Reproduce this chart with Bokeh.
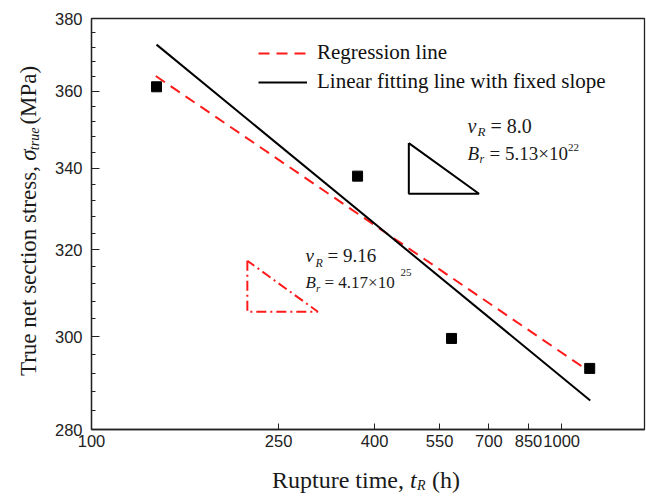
import math
from bokeh.plotting import figure
from bokeh.layouts import row, column
from bokeh.models import FixedTicker, Label, Legend, LegendItem, NumeralTickFormatter
from bokeh.core.properties import value
from bokeh.embed import file_html
from bokeh.resources import INLINE

# ---- data ----
rupture_time_h = [137.5, 368.0, 583.0, 1147.0]
stress_mpa = [361.2, 338.0, 299.6, 293.0]

regression_t = [137.0, 1150.0]
regression_sigma = [364.1, 292.2]
fixed_slope_t = [137.5, 1150.0]
fixed_slope_sigma = [372.7, 286.1]

x_tick_values = [100, 250, 400, 550, 700, 850, 1000]
y_tick_values = [280, 300, 320, 340, 360, 380]
y_minor_values = list(range(280, 381, 4))

tri_fixed_t = [473, 473, 667, 473]
tri_fixed_s = [346.4, 333.6, 333.6, 346.4]
tri_reg_t = [214.5, 214.5, 303.0, 214.5]
tri_reg_s = [317.4, 305.6, 305.6, 317.4]

X_LO, X_HI = 100, 1500
Y_LO, Y_HI = 280, 380

# ---- page geometry (px) ----
PAGE_W, PAGE_H = 646, 495
LEFT_W = 48           # strip holding the y-axis title
MAIN_H = 465          # main figure height
FL, FR, FT, FB = 91, 644, 18, 429  # frame edges on the page


def tx(px):
    f = (px - FL) / (FR - FL)
    return 10 ** (math.log10(X_LO) + f * (math.log10(X_HI) - math.log10(X_LO)))


def sy(py):
    f = (py - FT) / (FB - FT)
    return 10 ** (math.log10(Y_HI) - f * (math.log10(Y_HI) - math.log10(Y_LO)))


p = figure(width=PAGE_W - LEFT_W, height=MAIN_H, x_axis_type="log", y_axis_type="log",
           x_range=(X_LO, X_HI), y_range=(Y_LO, Y_HI),
           output_backend="svg", toolbar_location=None,
           min_border_left=FL - LEFT_W, min_border_right=PAGE_W - FR,
           min_border_top=FT, min_border_bottom=MAIN_H - FB)
p.background_fill_color = "white"
p.border_fill_color = "white"
p.xgrid.visible = False
p.ygrid.visible = False
p.outline_line_color = "#222222"
p.outline_line_width = 1.3

for ax in (p.xaxis, p.yaxis):
    ax.axis_line_color = "#222222"
    ax.axis_line_width = 1.3
    ax.major_tick_line_color = "#222222"
    ax.minor_tick_line_color = "#222222"
    ax.major_tick_out = 0
    ax.minor_tick_out = 0
    ax.major_label_text_font = "Liberation Sans"
    ax.major_label_text_font_size = "16.5px"
    ax.major_label_text_color = "#222222"
    ax.formatter = NumeralTickFormatter(format="0")

p.xaxis.ticker = FixedTicker(ticks=x_tick_values, minor_ticks=[])
p.xaxis.major_tick_in = 6
p.xaxis.major_label_standoff = 5
p.yaxis.ticker = FixedTicker(ticks=y_tick_values, minor_ticks=y_minor_values)
p.yaxis.major_tick_in = 8
p.yaxis.minor_tick_in = 4
p.yaxis.major_label_standoff = 9

# fitted lines
r_reg = p.line(regression_t, regression_sigma, line_color="#ff1a1a", line_width=2, line_dash="11 7")
r_fix = p.line(fixed_slope_t, fixed_slope_sigma, line_color="black", line_width=2)

# data
p.scatter(rupture_time_h, stress_mpa, marker="square", size=10, color="black")

# slope triangles
p.line(tri_fixed_t, tri_fixed_s, line_color="black", line_width=2)
p.line(tri_reg_t, tri_reg_s, line_color="#ff1a1a", line_width=2, line_dash="10 4 2 4")

legend = Legend(items=[LegendItem(label="Regression line", renderers=[r_reg]),
                       LegendItem(label="Linear fitting line with fixed slope", renderers=[r_fix])],
                location=(167, 335), padding=0, margin=0, spacing=4,
                glyph_width=49, glyph_height=22, label_height=22, label_standoff=10,
                label_text_font="Liberation Serif", label_text_font_size="21px",
                label_text_color="#111111",
                background_fill_alpha=0, border_line_alpha=0)
p.add_layout(legend, "center")

TXT = "#1a1a1a"


def lab(px, py, text, size, style="normal"):
    p.add_layout(Label(x=tx(px), y=sy(py), text=text, text_font="Liberation Serif",
                       text_font_size=f"{size}px", text_font_style=style, text_color=TXT,
                       text_align="left", text_baseline="middle"))


# annotation for the fixed slope line
lab(467, 125, "\u03bd", 20, "italic")
lab(477, 131, "R", 13, "italic")
lab(490, 125, "= 8.0", 20)
lab(467, 153, "B", 19, "italic")
lab(479, 158, "r", 12, "italic")
lab(489, 153, "= 5.13\u00d710", 19)
lab(567.5, 147, "22", 11)

# annotation for the regression line
lab(305, 255, "\u03bd", 19, "italic")
lab(315, 262, "R", 12, "italic")
lab(327, 255, "= 9.16", 19)
lab(305, 282, "B", 17, "italic")
lab(315.5, 287, "r", 11, "italic")
lab(324, 282, "= 4.17\u00d710", 17)
lab(400, 272, "25", 11)


def text_strip(w, h):
    f = figure(width=w, height=h, x_range=(0, w), y_range=(0, h),
               x_axis_location=None, y_axis_location=None,
               output_backend="svg", toolbar_location=None, min_border=0)
    f.grid.visible = False
    f.outline_line_color = None
    f.background_fill_color = "white"
    f.border_fill_color = "white"
    return f


def put(f, x, y, text, size, style="normal", align="left", angle=0.0):
    f.text(x=[x], y=[y], text=[text], angle=angle, text_font=value("Liberation Serif"),
           text_font_size=f"{size}px", text_font_style=style, text_color=TXT,
           text_align=align, text_baseline="middle")


# y-axis title strip (page x 0..LEFT_W, page y 0..MAIN_H)
ly = text_strip(LEFT_W, MAIN_H)
ang = math.pi / 2
put(ly, 28, MAIN_H - 167, "True net section stress,", 23, align="right", angle=ang)
put(ly, 28, MAIN_H - 161, "\u03c3", 23, "italic", angle=ang)
put(ly, 33.5, MAIN_H - 149, "true", 14, "italic", angle=ang)
put(ly, 28, MAIN_H - 120, "(MPa)", 23, angle=ang)

# x-axis title strip (page y MAIN_H..PAGE_H)
BOT_H = PAGE_H - MAIN_H
lx = text_strip(PAGE_W, BOT_H)
put(lx, 403.5, PAGE_H - 479, "Rupture time,", 24, align="right")
put(lx, 409.5, PAGE_H - 479, "t", 24, "italic")
put(lx, 416.5, PAGE_H - 485, "R", 14, "italic")
put(lx, 431.5, PAGE_H - 479, "(h)", 24)

layout = column(row(ly, p, spacing=0), lx, spacing=0)
open("out.html", "w").write(file_html(layout, INLINE))
